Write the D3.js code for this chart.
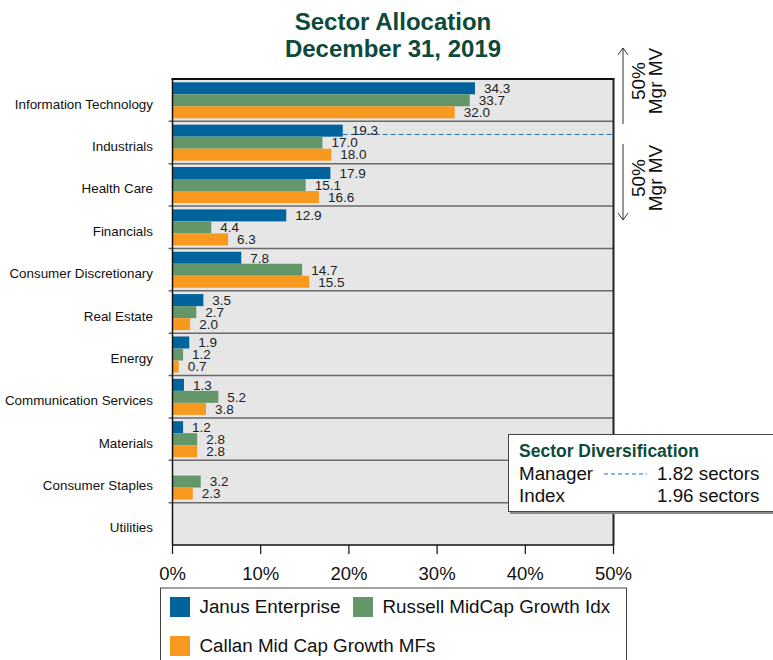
<!DOCTYPE html>
<html><head><meta charset="utf-8">
<script src="https://cdn.jsdelivr.net/npm/d3@7"></script>
<style>
html,body{margin:0;padding:0;background:#fff;}
text{font-family:"Liberation Sans",Arial,sans-serif;}
</style></head>
<body><svg id="c" width="773" height="660"></svg>
<script>
const categories = ["Information Technology","Industrials","Health Care","Financials","Consumer Discretionary","Real Estate","Energy","Communication Services","Materials","Consumer Staples","Utilities"];
const seriesNames = ["Janus Enterprise","Russell MidCap Growth Idx","Callan Mid Cap Growth MFs"];
const janus   = [34.3,19.3,17.9,12.9,7.8,3.5,1.9,1.3,1.2,0,0];
const russell = [33.7,17.0,15.1,4.4,14.7,2.7,1.2,5.2,2.8,3.2,0];
const callan  = [32.0,18.0,16.6,6.3,15.5,2.0,0.7,3.8,2.8,2.3,0];
const colors  = ["#00639b","#63976a","#f7981f"];
const xTicks  = [0,10,20,30,40,50];
const tickLabels = ["0%","10%","20%","30%","40%","50%"];
const diversification = [["Manager","1.82 sectors"],["Index","1.96 sectors"]];

const series = [janus, russell, callan];
const svg = d3.select("#c");
const L = 172.5, R = 613.5, T = 79, B = 545;
const x = d3.scaleLinear().domain([0,50]).range([L,R]);
const y = d3.scaleBand().domain(categories).range([T,B]);
const bw = y.bandwidth();
const inner = d3.scaleBand().domain([0,1,2]).range([3.3, 3.3+36]);
const green = "#0e4a3a";

// title
svg.append("text").attr("x",393).attr("y",30).attr("text-anchor","middle")
  .attr("font-size",24).attr("font-weight","bold").attr("fill",green).text("Sector Allocation");
svg.append("text").attr("x",393).attr("y",57).attr("text-anchor","middle")
  .attr("font-size",24).attr("font-weight","bold").attr("fill",green).text("December 31, 2019");

// plot background
svg.append("rect").attr("x",L).attr("y",T).attr("width",R-L).attr("height",B-T).attr("fill","#e6e6e6");

// separators
categories.slice(1).forEach(c=>{
  svg.append("line").attr("x1",L-4).attr("x2",R).attr("y1",y(c)).attr("y2",y(c))
    .attr("stroke","#6a6a6a").attr("stroke-width",1.5);
});

// bars
series.forEach((vals,si)=>{
  svg.append("g").selectAll("rect").data(vals).join("rect")
    .attr("x",x(0)).attr("y",(d,i)=>y(categories[i])+inner(si))
    .attr("width",d=>x(d)-x(0)).attr("height",inner.bandwidth())
    .attr("fill",colors[si]);
});

// dashed line for manager diversification (cumulative 50%)
{
  let cum=0, idx=0;
  for(let i=0;i<janus.length;i++){ if(cum+janus[i]>=50){idx=i;break;} cum+=janus[i]; }
  const frac=(50-cum)/janus[idx];
  const yy=y(categories[idx])+inner(0)+inner.bandwidth()*frac;
  svg.append("line").attr("x1",x(janus[idx])).attr("x2",R).attr("y1",yy).attr("y2",yy)
    .attr("stroke","#1a70b0").attr("stroke-width",1).attr("stroke-dasharray","5,3");
}

// value labels
series.forEach((vals,si)=>{
  svg.append("g").selectAll("text").data(vals.map((v,i)=>({v,i})).filter(d=>d.v>0)).join("text")
    .attr("x",d=>x(d.v)+9).attr("y",d=>y(categories[d.i])+inner(si)+inner.bandwidth()/2+4.8)
    .attr("font-size",13.5).attr("fill","#222").text(d=>d.v.toFixed(1));
});

// plot frame
svg.append("line").attr("x1",L-1).attr("x2",R+1).attr("y1",T).attr("y2",T).attr("stroke","#111").attr("stroke-width",2);
svg.append("line").attr("x1",R).attr("x2",R).attr("y1",T).attr("y2",B).attr("stroke","#222").attr("stroke-width",2);
svg.append("line").attr("x1",L).attr("x2",L).attr("y1",T).attr("y2",B).attr("stroke","#111").attr("stroke-width",1.5);
svg.append("line").attr("x1",L).attr("x2",R).attr("y1",B).attr("y2",B).attr("stroke","#111").attr("stroke-width",1.5);

// category labels
svg.append("g").selectAll("text").data(categories).join("text")
  .attr("x",153).attr("y",d=>y(d)+bw/2+8.5).attr("text-anchor","end")
  .attr("font-size",13.4).attr("fill","#111").text(d=>d);

// x axis
const xAxis = svg.append("g");
xAxis.selectAll("line").data(xTicks).join("line")
  .attr("x1",d=>x(d)).attr("x2",d=>x(d)).attr("y1",B).attr("y2",B+9).attr("stroke","#111").attr("stroke-width",1.2);
xAxis.selectAll("text").data(xTicks).join("text")
  .attr("x",d=>x(d)).attr("y",580).attr("text-anchor","middle").attr("font-size",18.5).attr("fill","#111")
  .text((d,i)=>tickLabels[i]);

// arrows
function arrow(y1,y2,headTop){
  const ax=623;
  svg.append("line").attr("x1",ax).attr("x2",ax).attr("y1",y1).attr("y2",y2).attr("stroke","#333").attr("stroke-width",1);
  const hy = headTop?y1:y2, d = headTop?7:-7;
  svg.append("path").attr("d",`M${ax-5},${hy+d} L${ax},${hy} L${ax+5},${hy+d}`).attr("fill","none").attr("stroke","#333").attr("stroke-width",1);
}
arrow(48,124,true);
arrow(144,220,false);
function rotLabel(cy){
  svg.append("text").attr("transform",`translate(645,${cy}) rotate(-90)`).attr("text-anchor","middle")
    .attr("font-size",19).attr("fill","#111").text("50%");
  svg.append("text").attr("transform",`translate(662,${cy}) rotate(-90)`).attr("text-anchor","middle")
    .attr("font-size",19).attr("fill","#111").text("Mgr MV");
}
rotLabel(81);
rotLabel(178);

// diversification box
svg.append("rect").attr("x",510).attr("y",436).attr("width",270).attr("height",78).attr("fill","#8a8a8a");
svg.append("rect").attr("x",508.5).attr("y",434.5).attr("width",270).attr("height",77).attr("fill","#fff").attr("stroke","#444").attr("stroke-width",1);
svg.append("text").attr("x",519).attr("y",456.5).attr("font-size",17.5).attr("font-weight","bold").attr("fill",green).text("Sector Diversification");
diversification.forEach((d,i)=>{
  const yy = 480 + i*22.3;
  svg.append("text").attr("x",519).attr("y",yy).attr("font-size",18.8).attr("fill","#111").text(d[0]);
  svg.append("text").attr("x",657).attr("y",yy).attr("font-size",18.8).attr("fill","#111").text(d[1]);
});
svg.append("line").attr("x1",604).attr("x2",647).attr("y1",474).attr("y2",474)
  .attr("stroke","#1a70b0").attr("stroke-width",1).attr("stroke-dasharray","4,3");

// legend
svg.append("rect").attr("x",160.5).attr("y",588).attr("width",466).attr("height",90).attr("fill","#fff").attr("stroke","#444").attr("stroke-width",1);
const legPos = [[170,597],[353,597],[170,636]];
seriesNames.forEach((n,i)=>{
  const [lx,ly]=legPos[i];
  svg.append("rect").attr("x",lx).attr("y",ly).attr("width",20).attr("height",20).attr("fill",colors[i]);
  svg.append("text").attr("x",lx+29.5).attr("y",ly+15.5).attr("font-size",18.8).attr("fill","#111").text(n);
});
</script></body></html>
